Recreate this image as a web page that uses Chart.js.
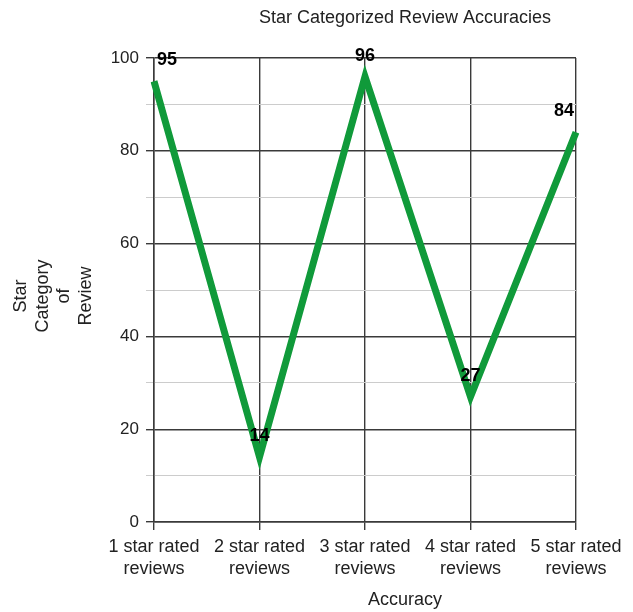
<!DOCTYPE html>
<html>
<head>
<meta charset="utf-8">
<script src="https://cdn.jsdelivr.net/npm/chart.js@4.4.1/dist/chart.umd.min.js"></script>
<style>
  html, body { margin: 0; padding: 0; background: #ffffff; }
  #contenedor { width: 633px; height: 612px; }
</style>
</head>
<body>
<div id="contenedor">
  <canvas id="grafico" width="633" height="612"></canvas>
</div>
<script>
// datos del grafico
var categorias = [
    ['1 star rated', 'reviews'],
    ['2 star rated', 'reviews'],
    ['3 star rated', 'reviews'],
    ['4 star rated', 'reviews'],
    ['5 star rated', 'reviews']
];
var precisiones = [95, 14, 96, 27, 84];
var ticksY = [0, 20, 40, 60, 80, 100];

var tituloGrafico = 'Star Categorized Review Accuracies';
var tituloEjeX = 'Accuracy';
var tituloEjeY = ['Star', 'Category', 'of', 'Review'];

var fuente = '"Liberation Sans", Arial, sans-serif';
var colorTexto = '#222222';
var colorLinea = '#109a3a';

// titulos dibujados a mano (centrados como en el original)
var pluginTitulos = {
    id: 'titulos',
    afterDraw: function (chart) {
        var ctx = chart.ctx;
        var area = chart.chartArea;
        ctx.save();
        ctx.fillStyle = colorTexto;
        ctx.font = '18px ' + fuente;
        ctx.textAlign = 'center';
        ctx.textBaseline = 'middle';
        ctx.fillText(tituloGrafico, 405, 18);
        ctx.fillText(tituloEjeX, 405, 600);

        // titulo eje y rotado, varias lineas
        var centroY = (area.top + area.bottom) / 2 + 6;
        ctx.translate(21, centroY);
        ctx.rotate(-Math.PI / 2);
        for (var i = 0; i < tituloEjeY.length; i++) {
            ctx.fillText(tituloEjeY[i], 0, i * 21.7);
        }
        ctx.restore();
    }
};

// etiquetas con el valor encima de cada punto
var pluginEtiquetas = {
    id: 'etiquetasValor',
    afterDatasetsDraw: function (chart) {
        var ctx = chart.ctx;
        var area = chart.chartArea;
        var meta = chart.getDatasetMeta(0);
        ctx.save();
        ctx.fillStyle = '#000000';
        ctx.font = 'bold 18px ' + fuente;
        ctx.textAlign = 'center';
        ctx.textBaseline = 'middle';
        meta.data.forEach(function (punto, i) {
            var texto = String(precisiones[i]);
            var ancho = ctx.measureText(texto).width;
            var x = Math.min(Math.max(punto.x, area.left + ancho / 2 + 3), area.right - ancho / 2 - 2);
            ctx.fillText(texto, x, punto.y - 21);
        });
        ctx.restore();
    }
};

function colorRejilla(context) {
    if (context.tick && context.tick.value % 20 !== 0) {
        return '#cccccc';
    }
    return '#3a3a3a';
}

var grafico = new Chart(document.getElementById('grafico').getContext('2d'), {
    type: 'line',
    data: {
        labels: categorias,
        datasets: [{
            label: 'Accuracy',
            data: precisiones,
            borderColor: colorLinea,
            backgroundColor: colorLinea,
            borderWidth: 7,
            pointRadius: 0,
            fill: false,
            tension: 0
        }]
    },
    options: {
        responsive: false,
        animation: false,
        layout: {
            padding: { top: 58, right: 57, bottom: 0, left: 0 }
        },
        plugins: {
            legend: { display: false },
            title: { display: false },
            tooltip: { enabled: false }
        },
        scales: {
            x: {
                offset: false,
                grid: {
                    color: '#3a3a3a',
                    lineWidth: 1.4,
                    tickLength: 8
                },
                border: { color: '#3a3a3a', width: 1.5 },
                ticks: {
                    color: colorTexto,
                    font: { family: fuente, size: 18, lineHeight: 1.17 },
                    padding: 7,
                    maxRotation: 0,
                    autoSkip: false
                },
                afterFit: function (scale) {
                    scale.height = 90;
                }
            },
            y: {
                min: ticksY[0],
                max: ticksY[ticksY.length - 1],
                grid: {
                    color: colorRejilla,
                    lineWidth: function (context) {
                        return context.tick && context.tick.value % 20 !== 0 ? 1 : 1.4;
                    },
                    tickLength: 8
                },
                border: { color: '#3a3a3a', width: 1.5 },
                ticks: {
                    stepSize: 10,
                    color: colorTexto,
                    font: { family: fuente, size: 17 },
                    padding: 7,
                    callback: function (valor) {
                        return ticksY.indexOf(valor) >= 0 ? String(valor) : '';
                    }
                },
                afterFit: function (scale) {
                    scale.width = 154;
                }
            }
        }
    },
    plugins: [pluginTitulos, pluginEtiquetas]
});
</script>
</body>
</html>
